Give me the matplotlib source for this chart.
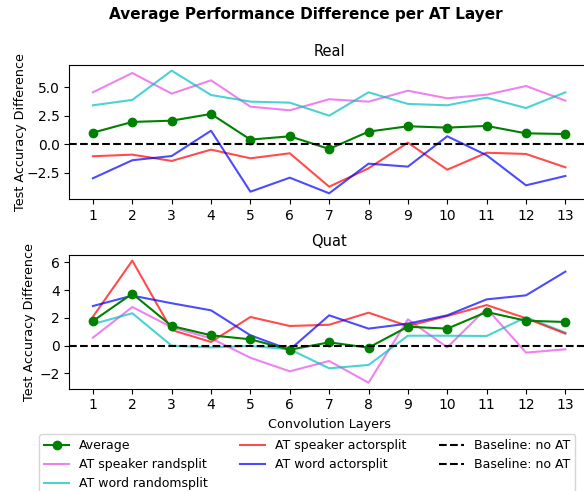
import matplotlib
matplotlib.use('Agg')
import matplotlib.pyplot as plt
from matplotlib.lines import Line2D

layers = list(range(1, 14))

# Real
real_avg = [1.02, 1.96, 2.07, 2.66, 0.41, 0.70, -0.41, 1.11, 1.58, 1.46, 1.61, 0.96, 0.90]
real_spk_rand = [4.56, 6.25, 4.44, 5.61, 3.30, 2.98, 3.95, 3.74, 4.70, 4.03, 4.35, 5.11, 3.83]
real_word_rand = [3.42, 3.89, 6.46, 4.32, 3.74, 3.65, 2.51, 4.56, 3.54, 3.42, 4.09, 3.18, 4.56]
real_spk_actor = [-1.05, -0.91, -1.46, -0.47, -1.23, -0.79, -3.72, -2.11, 0.14, -2.23, -0.74, -0.85, -2.02]
real_word_actor = [-2.98, -1.40, -1.03, 1.19, -4.16, -2.93, -4.30, -1.70, -1.96, 0.70, -0.96, -3.60, -2.78]

# Quat
quat_avg = [1.78, 3.75, 1.42, 0.75, 0.46, -0.29, 0.24, -0.14, 1.37, 1.23, 2.43, 1.80, 1.71]
quat_spk_rand = [0.58, 2.79, 1.33, 0.53, -0.87, -1.85, -1.10, -2.67, 1.90, -0.12, 2.69, -0.50, -0.26]
quat_word_rand = [1.56, 2.34, 0.0, -0.12, -0.02, -0.26, -1.63, -1.39, 0.72, 0.72, 0.70, 2.05, 0.94]
quat_spk_actor = [2.09, 6.13, 1.13, 0.27, 2.07, 1.42, 1.51, 2.38, 1.42, 2.14, 2.93, 1.98, 0.87]
quat_word_actor = [2.86, 3.61, 3.06, 2.55, 0.75, -0.29, 2.19, 1.23, 1.59, 2.19, 3.34, 3.63, 5.34]

W, H = 584, 491
fig = plt.figure(figsize=(W / 100, H / 100), dpi=100)
fig.suptitle('Average Performance Difference per AT Layer', fontweight='bold', fontsize=11,
             x=306 / W, y=1 - 14 / H, va='center')

left = 69.3 / W
axw = 589 - 69.3
width = axw / W
ax1 = fig.add_axes([left, 1 - 199 / H, width, (199 - 64.7) / H])
ax2 = fig.add_axes([left, 1 - 388.7 / H, width, (388.7 - 254.7) / H])


def draw(ax, avg, spk_rand, word_rand, spk_actor, word_actor, title):
    ax.plot(layers, spk_rand, color='violet', lw=1.5)
    ax.plot(layers, word_rand, color='c', alpha=0.7, lw=1.5)
    ax.plot(layers, spk_actor, color='red', alpha=0.7, lw=1.5)
    ax.plot(layers, word_actor, color='blue', alpha=0.7, lw=1.5)
    ax.plot(layers, avg, color='green', marker='o', lw=1.5, ms=6)
    ax.axhline(0, color='black', ls='--', lw=1.5)
    ax.set_xticks(layers)
    ax.set_xlim(0.4, 13.6)
    ax.set_title(title, fontsize=10.5)
    ax.set_ylabel('Test Accuracy Difference', fontsize=9.2)


draw(ax1, real_avg, real_spk_rand, real_word_rand, real_spk_actor, real_word_actor, 'Real')
ax1.set_ylim(-4.8, 6.98)
ax1.set_yticks([-2.5, 0.0, 2.5, 5.0])
ax1.yaxis.set_label_coords((27.5 - 69.3) / axw, 0.5)

draw(ax2, quat_avg, quat_spk_rand, quat_word_rand, quat_spk_actor, quat_word_actor, 'Quat')
ax2.set_ylim(-3.1, 6.56)
ax2.set_yticks([-2, 0, 2, 4, 6])
ax2.yaxis.set_label_coords((36 - 69.3) / axw, 0.5)
ax2.set_xlabel('Convolution Layers', fontsize=9.2)

handles = [
    Line2D([], [], color='green', marker='o', lw=1.5, ms=6),
    Line2D([], [], color='violet', lw=1.5),
    Line2D([], [], color='c', alpha=0.7, lw=1.5),
    Line2D([], [], color='red', alpha=0.7, lw=1.5),
    Line2D([], [], color='blue', alpha=0.7, lw=1.5),
    Line2D([], [], color='black', ls='--', lw=1.5),
    Line2D([], [], color='black', ls='--', lw=1.5),
]
labels = ['Average', 'AT speaker randsplit', 'AT word randomsplit', 'AT speaker actorsplit',
          'AT word actorsplit', 'Baseline: no AT', 'Baseline: no AT']
fig.legend(handles, labels, ncol=3, fontsize=9, columnspacing=2.6, loc='upper left',
           borderaxespad=0, bbox_to_anchor=(39 / W, 1 - 434 / H))

fig.savefig('out.png', dpi=100)
